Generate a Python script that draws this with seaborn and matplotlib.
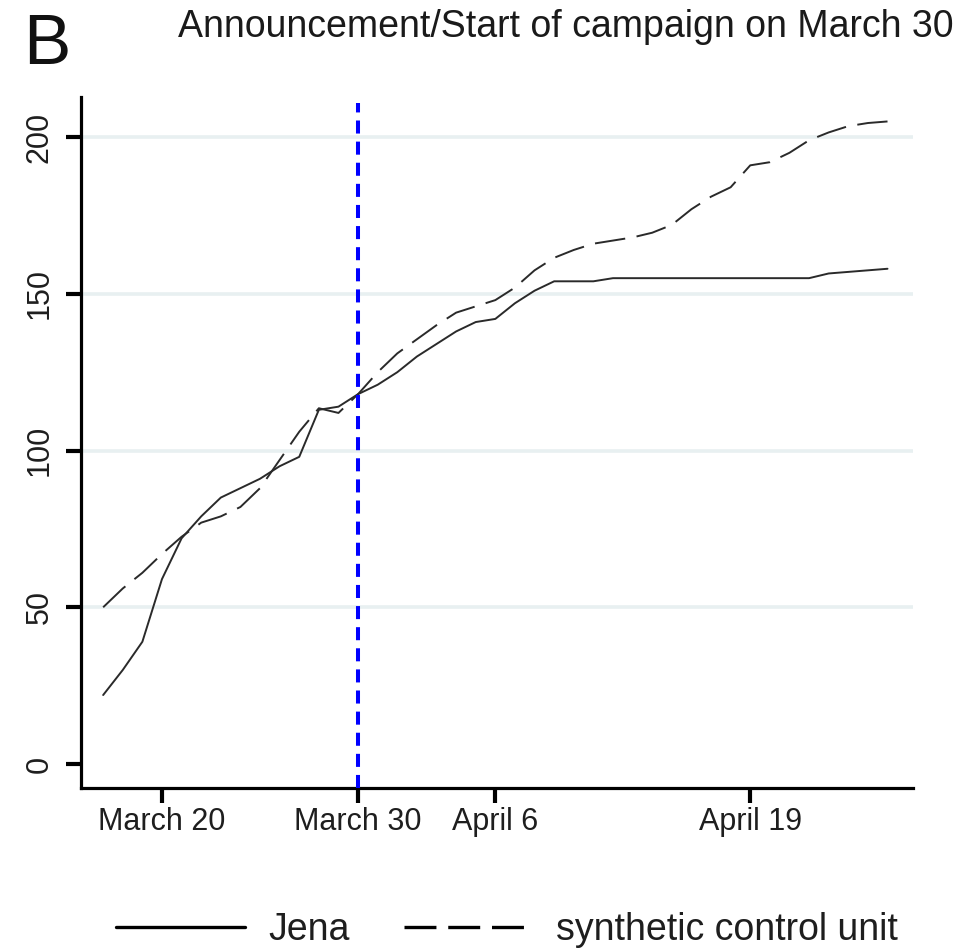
import numpy as np
import pandas as pd
import matplotlib
matplotlib.use("Agg")
import matplotlib.pyplot as plt
from matplotlib.lines import Line2D
import seaborn as sns

# Daily cumulative values, March 17 - April 26
dates = pd.date_range("2020-03-17", "2020-04-26", freq="D")
jena = [22, 30, 39, 59, 72, 79, 85, 88, 91, 95, 98, 113, 114, 118, 121,
        125, 130, 134, 138, 141, 142, 147, 151, 154, 154, 154,
        155, 155, 155, 155, 155, 155, 155, 155, 155, 155, 155,
        156.5, 157, 157.5, 158]
synthetic = [50, 56, 61, 67, 72.5, 77, 79, 82, 88, 97, 106, 113.5, 112, 118, 125,
             131, 135.5, 140, 144, 146, 148, 152, 157.5, 161.5, 164, 166,
             167, 168, 169.5, 172, 177, 181, 184, 191, 192, 195, 199,
             201.5, 203.5, 204.5, 205]
series_names = ["Jena", "synthetic control unit"]

tick_dates = pd.to_datetime(["2020-03-20", "2020-03-30", "2020-04-06", "2020-04-19"])
tick_labels = ["March 20", "March 30", "April 6", "April 19"]
y_ticks = [0, 50, 100, 150, 200]
campaign_date = pd.Timestamp("2020-03-30")
title = "Announcement/Start of campaign on March 30"
panel = "B"

sns.set_theme(style="white")
plt.rcParams["font.family"] = ["Liberation Sans", "DejaVu Sans"]
plt.rcParams["lines.scale_dashes"] = False

df = pd.DataFrame({
    "date": np.tile(dates, 2),
    "value": jena + synthetic,
    "series": np.repeat(series_names, len(dates)),
})

W, H = 974, 950
fig = plt.figure(figsize=(W / 100, H / 100), dpi=100)
ax = fig.add_axes([81 / W, 1 - 788 / H, (913 - 81) / W, (788 - 97) / H])

dash_pat = (22, 8.3)
sns.lineplot(data=df, x="date", y="value", style="series", style_order=series_names,
             dashes={"Jena": "", "synthetic control unit": dash_pat},
             color="#2a2a2a", linewidth=1.4, legend=False, ax=ax, zorder=3)

# campaign start marker
ax.axvline(campaign_date, ymin=0, ymax=0.991, color="#0000ff", linewidth=2.9,
           linestyle=(0, (9.4, 5.8)), zorder=4)

# axes limits
x0 = pd.Timestamp("2020-03-20")
ax.set_xlim(x0 - pd.Timedelta(days=4.13), x0 + pd.Timedelta(days=38.3))
ax.set_ylim(-7.66, 212.8)

ax.set_xticks(tick_dates)
ax.set_xticklabels(tick_labels)
ax.set_yticks(y_ticks)
ax.set_yticklabels([str(v) for v in y_ticks], rotation=90, va="center", ha="right")
ax.set_xlabel("")
ax.set_ylabel("")

ax.tick_params(axis="both", bottom=True, left=True, length=10.8, width=3,
               color="black", labelsize=22, labelcolor="#1e1e1e")
ax.tick_params(axis="x", pad=3)
ax.tick_params(axis="y", pad=8)

ax.grid(axis="y", color="#e8f0f1", linewidth=2.6, zorder=0)
ax.grid(axis="x", visible=False)
ax.set_axisbelow(True)
ax.yaxis.get_gridlines()[0].set_visible(False)

for side in ["top", "right"]:
    ax.spines[side].set_visible(False)
for side in ["left", "bottom"]:
    ax.spines[side].set_linewidth(2.3)
    ax.spines[side].set_color("black")

fig.text(178 / W, 1 - 37 / H, title, fontsize=27, ha="left", va="baseline", color="#1a1a1a")
fig.text(23 / W, 1 - 64 / H, panel, fontsize=51, ha="left", va="baseline", color="#111111")

handles = [
    Line2D([], [], color="black", linewidth=2.4),
    Line2D([], [], color="black", linewidth=2.4, linestyle=(0, (23, 8.5))),
]
fig.legend(handles, series_names, loc="center", bbox_to_anchor=(507 / W, 1 - 930 / H),
           ncol=2, frameon=False, fontsize=27, handlelength=3.42, handletextpad=0.63,
           columnspacing=1.45, borderpad=0, borderaxespad=0, labelcolor="#1e1e1e")

fig.savefig("out.png", dpi=100)
